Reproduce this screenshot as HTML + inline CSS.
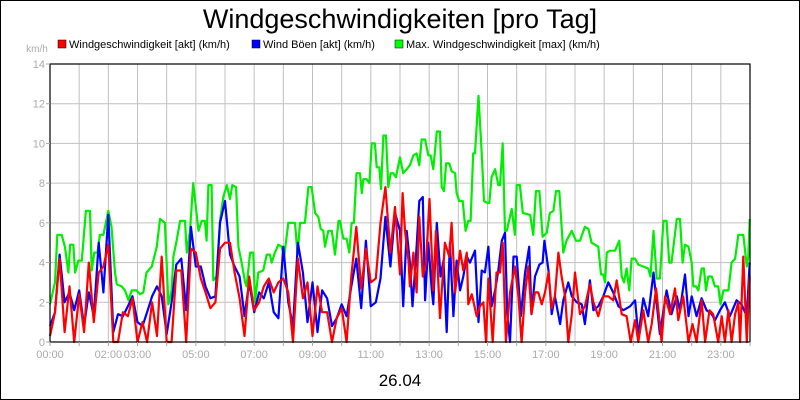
<!DOCTYPE html>
<html><head><meta charset="utf-8"><style>
html,body{margin:0;padding:0;background:#fff}
#wrap{position:relative;width:798px;height:398px;border:1px solid #000;overflow:hidden;font-family:"Liberation Sans",sans-serif}
</style></head><body>
<div id="wrap">
<svg id="chart" width="798" height="398" viewBox="1 1 798 398" xmlns="http://www.w3.org/2000/svg">
<text x="400" y="28" text-anchor="middle" font-size="27" font-family="Liberation Sans, sans-serif">Windgeschwindigkeiten [pro Tag]</text>
<g font-size="11" font-family="Liberation Sans, sans-serif">
<g><rect x="58" y="40" width="8" height="8" fill="#f00" stroke="#000" stroke-width="0.5"/><text x="69" y="48">Windgeschwindigkeit [akt] (km/h)</text></g>
<g><rect x="252" y="40" width="8" height="8" fill="#00f" stroke="#000" stroke-width="0.5"/><text x="263" y="48">Wind Böen [akt] (km/h)</text></g>
<g><rect x="395" y="40" width="8" height="8" fill="#0f0" stroke="#000" stroke-width="0.5"/><text x="406" y="48">Max. Windgeschwindigkeit [max] (km/h)</text></g>
</g>
<text x="37" y="52" text-anchor="middle" font-size="10" fill="#aaa">km/h</text>
<g id="grid"></g>
<g id="series"></g>
<rect x="50" y="64" width="700" height="278" fill="none" stroke="#000" stroke-width="1.2"/>
<g id="axes"></g>
<text x="400" y="386" text-anchor="middle" font-size="17">26.04</text>
</svg>
</div>
<script>
const yTicks=[0,2,4,6,8,10,12,14];
const xTickLabels=["00:00","02:00","03:00","05:00","07:00","09:00","11:00","13:00","15:00","17:00","19:00","21:00","23:00"];
const xTickHours=[0,2,3,5,7,9,11,13,15,17,19,21,23];
const greenTimes=[0,.17,.25,.40,.51,.63,.69,.80,.86,.97,1.09,1.23,1.37,1.43,1.52,1.63,1.71,1.83,2.0,2.11,2.23,2.29,2.46,2.57,2.69,2.8,2.97,3.09,3.2,3.31,3.49,3.66,3.77,3.94,4.06,4.17,4.23,4.34,4.46,4.63,4.69,4.8,4.91,5.09,5.2,5.31,5.37,5.43,5.54,5.6,5.71,5.83,5.94,6.06,6.17,6.25,6.38,6.46,6.57,6.69,6.74,6.86,6.97,7.03,7.14,7.31,7.43,7.54,7.6,7.71,7.83,7.94,8.03,8.17,8.4,8.49,8.57,8.74,8.86,8.97,9.09,9.2,9.28,9.37,9.43,9.54,9.66,9.77,9.89,9.94,10.06,10.17,10.26,10.34,10.42,10.51,10.63,10.69,10.74,10.86,10.95,11.03,11.14,11.2,11.29,11.35,11.43,11.52,11.6,11.68,11.77,11.86,12.0,12.11,12.23,12.34,12.46,12.57,12.66,12.74,12.86,12.97,13.05,13.14,13.26,13.37,13.43,13.51,13.58,13.69,13.77,13.89,13.94,14.03,14.15,14.25,14.34,14.42,14.51,14.57,14.69,14.8,14.88,15.0,15.06,15.14,15.26,15.37,15.43,15.52,15.6,15.66,15.83,15.94,16.0,16.11,16.21,16.46,16.57,16.66,16.78,16.89,17.03,17.14,17.26,17.35,17.46,17.6,17.71,17.89,18.03,18.17,18.34,18.46,18.57,18.8,18.89,18.97,19.03,19.09,19.2,19.37,19.52,19.6,19.68,19.77,19.86,19.94,20.06,20.17,20.34,20.51,20.59,20.69,20.8,20.91,21.03,21.14,21.23,21.31,21.49,21.6,21.69,21.77,21.89,22.0,22.06,22.15,22.23,22.34,22.42,22.49,22.57,22.69,22.8,22.91,22.99,23.09,23.26,23.37,23.49,23.6,23.77,23.89,23.94,23.99];
const greenValues=[1.9,3.0,5.4,5.4,4.8,3.5,4.9,4.9,3.5,4.1,4.1,6.6,6.6,3.6,4.5,4.5,5.4,5.4,6.6,5.8,3.5,2.9,2.8,2.6,2.1,2.6,2.6,2.4,2.5,3.5,3.8,4.8,6.2,6.0,1.9,2.6,4.3,5.1,6.1,6.1,4.5,5.6,8.0,5.6,6.1,6.1,5.1,7.9,7.9,3.1,3.3,6.1,7.3,7.9,7.2,7.9,7.8,4.8,4.0,3.0,2.8,4.5,4.5,2.0,3.5,3.6,4.4,4.4,4.0,4.5,4.9,4.8,4.3,6.0,6.0,4.4,6.0,6.0,7.8,7.8,6.5,6.3,5.7,5.6,4.8,5.6,5.6,4.4,6.1,6.1,5.2,5.2,4.5,6.0,6.0,8.5,8.5,7.5,8.2,8.2,8.0,10.0,10.0,8.8,8.8,7.7,10.4,10.4,7.8,8.5,8.5,8.3,9.3,8.5,8.7,8.9,9.4,9.5,8.9,10.2,10.2,9.4,9.4,8.7,10.6,10.6,7.8,7.6,9.0,9.0,8.6,8.5,7.5,7.1,7.1,5.6,6.1,6.1,9.5,9.5,12.4,9.5,7.1,7.0,7.0,8.3,8.7,7.9,7.9,10.0,5.6,5.6,6.7,5.4,7.9,7.9,6.5,6.4,5.4,7.6,7.6,5.3,5.5,6.5,6.6,7.6,7.6,4.5,5.1,5.6,5.1,5.1,5.8,5.7,5.0,4.8,3.4,3.4,3.0,4.5,4.6,4.6,5.1,3.3,3.0,3.7,2.6,4.2,4.2,3.9,3.8,3.7,3.3,5.6,3.2,3.2,6.1,6.1,4.0,4.0,6.2,6.2,4.0,4.9,4.8,4.0,2.8,2.8,2.6,3.7,3.7,2.6,3.3,3.3,2.8,2.8,1.9,2.6,2.6,4.0,4.2,5.4,5.4,3.8,4.3,6.2];
const redTimes=[0,.17,.33,.5,.67,.83,1.0,1.17,1.33,1.5,1.67,1.83,2.0,2.17,2.33,2.5,2.67,2.83,3.0,3.17,3.33,3.5,3.67,3.83,4.0,4.17,4.33,4.5,4.67,4.83,5.0,5.17,5.33,5.5,5.67,5.83,6.0,6.17,6.33,6.5,6.67,6.83,7.0,7.17,7.33,7.5,7.67,7.83,8.0,8.17,8.33,8.5,8.67,8.83,9.0,9.17,9.33,9.5,9.67,9.83,10.0,10.17,10.33,10.5,10.67,10.83,11.0,11.17,11.33,11.5,11.67,11.83,12.0,12.09,12.17,12.29,12.34,12.46,12.57,12.66,12.78,12.89,13.01,13.14,13.23,13.37,13.54,13.69,13.77,13.89,14.06,14.17,14.29,14.34,14.46,14.63,14.74,14.86,14.95,15.03,15.18,15.31,15.43,15.52,15.63,15.77,15.94,16.06,16.17,16.29,16.4,16.51,16.63,16.74,16.86,16.97,17.09,17.2,17.31,17.43,17.54,17.66,17.77,17.89,18.0,18.17,18.34,18.51,18.63,18.8,18.97,19.14,19.31,19.43,19.6,19.77,19.91,20.06,20.17,20.34,20.51,20.63,20.78,20.97,21.09,21.26,21.43,21.54,21.71,21.89,22.03,22.17,22.34,22.46,22.61,22.74,22.91,23.03,23.14,23.26,23.37,23.49,23.6,23.66,23.77,23.89,23.99];
const redValues=[0.3,1.5,4.2,0.5,2.8,0,2.4,0.5,4.0,1.0,3.5,3.8,4.9,0,0,1.5,1.3,2.2,0,1.0,0,2.0,0.3,4.3,0,0,3.6,3.6,0,4.7,4.5,3.2,2.5,1.7,2.0,4.7,5.0,5.0,3.5,2.2,0.3,3.3,1.6,2.0,2.8,3.2,2.5,3.0,3.2,2.5,0,4.2,2.2,3.0,0.3,2.8,1.5,1.5,0,1.2,1.7,0,3.3,5.8,2.7,4.7,3.0,3.2,6.0,7.8,4.5,6.8,3.4,7.5,5.6,4.1,2.8,4.5,2.5,6.3,3.3,4.0,7.2,2.6,5.6,1.2,5.0,4.3,6.0,2.5,4.6,3.6,4.5,1.9,2.4,1.3,1.8,2.0,0,3.2,0,3.5,3.5,5.0,0,2.5,3.8,2.3,0,2.5,3.8,1.4,2.5,2.5,1.9,2.5,3.5,1.7,2.3,4.5,3.3,2.3,0,1.4,3.5,1.4,1.8,2.9,2.0,1.3,2.3,2.3,2.1,3.1,1.4,1.3,0,1.1,0,1.6,0,0.9,2.7,0,2.3,1.4,2.7,1.1,2.3,0,0.9,0,2.1,0,1.6,1.4,0,1.3,0,1.6,0,1.4,2.0,0,4.3,0,3.3];
const blueTimes=[0,.17,.33,.5,.67,.83,1.0,1.17,1.33,1.5,1.67,1.83,2.0,2.17,2.33,2.5,2.67,2.83,3.0,3.17,3.33,3.5,3.67,3.83,4.0,4.17,4.33,4.5,4.67,4.83,5.0,5.17,5.33,5.5,5.67,5.83,6.0,6.17,6.33,6.5,6.67,6.83,7.0,7.17,7.33,7.5,7.67,7.83,8.0,8.17,8.33,8.5,8.67,8.83,9.0,9.17,9.33,9.5,9.67,9.83,10.0,10.17,10.33,10.5,10.67,10.83,11.0,11.17,11.33,11.5,11.67,11.83,12.0,12.11,12.23,12.34,12.43,12.55,12.66,12.78,12.86,12.97,13.09,13.14,13.26,13.39,13.49,13.6,13.71,13.83,13.94,14.06,14.17,14.29,14.4,14.57,14.69,14.8,14.91,15.03,15.14,15.26,15.37,15.49,15.6,15.68,15.77,15.89,16.0,16.14,16.29,16.43,16.51,16.63,16.78,16.89,16.95,17.09,17.2,17.31,17.49,17.6,17.77,17.89,18.06,18.23,18.34,18.51,18.63,18.8,18.97,19.14,19.31,19.49,19.66,19.89,20.06,20.17,20.34,20.51,20.69,20.91,21.14,21.31,21.49,21.6,21.77,21.89,22.0,22.17,22.34,22.51,22.69,22.8,22.97,23.14,23.31,23.54,23.71,23.89,23.99];
const blueValues=[0.8,1.5,4.4,2.0,2.5,1.6,2.6,0.8,2.5,1.3,5.0,2.5,6.4,0.5,1.4,1.3,1.8,2.3,1.0,0.8,1.5,2.3,2.8,2.3,0.4,2.0,3.9,4.2,1.6,5.8,3.8,3.8,2.8,2.2,2.3,6.0,7.1,4.4,3.8,3.3,1.3,3.0,1.5,2.5,2.2,3.0,1.5,1.2,4.8,2.0,0.8,5.0,3.5,1.0,3.0,0.5,2.6,2.2,0.8,1.2,1.9,1.3,2.8,4.2,1.7,5.1,1.8,2.0,3.2,6.3,3.8,6.5,5.6,1.8,5.6,4.0,1.8,4.3,7.1,7.3,2.1,5.0,2.6,1.9,6.0,3.3,4.1,0.5,5.0,1.3,4.1,2.6,3.3,4.3,4.0,4.6,1.0,3.6,3.5,4.8,1.8,2.6,3.6,5.1,5.5,1.4,0,4.3,4.3,1.3,3.5,4.8,1.4,3.3,3.9,4.0,5.1,3.6,1.4,2.3,0.9,2.1,3.0,2.3,2.0,1.9,0.9,3.1,1.6,1.8,2.3,3.0,2.5,1.8,1.6,1.8,2.1,0.3,2.2,1.3,3.5,0.4,2.6,1.4,2.3,1.6,3.4,1.3,2.3,1.3,2.2,1.6,1.4,1.1,1.6,2.0,1.3,2.1,1.9,1.3,4.0];

const NS="http://www.w3.org/2000/svg";
const X0=50,X1=750,Y0=342,Y1=64;
function xScale(h){return X0+h/24*(X1-X0);}
function yScale(v){return Y0-v/14*(Y0-Y1);}
const grid=document.getElementById('grid'),axes=document.getElementById('axes'),series=document.getElementById('series');
for(let h=1;h<24;h++){
  const l=document.createElementNS(NS,'line');
  
  
  l.setAttribute('x1',xScale(h));l.setAttribute('x2',xScale(h));l.setAttribute('y1',Y1);l.setAttribute('y2',Y0);
  l.setAttribute('stroke','#c0c0c0');l.setAttribute('stroke-width','1');grid.appendChild(l);
}
for(let h=0;h<=24;h++){
  const t=document.createElementNS(NS,'line');
  
  
  t.setAttribute('x1',xScale(h));t.setAttribute('x2',xScale(h));t.setAttribute('y1',Y0);t.setAttribute('y2',Y0+4);
  t.setAttribute('stroke','#aaa');axes.appendChild(t);
}
yTicks.forEach(v=>{
  if(v>0&&v<14){
    const l=document.createElementNS(NS,'line');
    
    
    l.setAttribute('x1',X0);l.setAttribute('x2',X1);l.setAttribute('y1',yScale(v));l.setAttribute('y2',yScale(v));
    l.setAttribute('stroke','#c0c0c0');grid.appendChild(l);
  }
  const tk=document.createElementNS(NS,'line');
  
  
  tk.setAttribute('x1',X0-4);tk.setAttribute('x2',X0);tk.setAttribute('y1',yScale(v));tk.setAttribute('y2',yScale(v));
  tk.setAttribute('stroke','#aaa');axes.appendChild(tk);
  const t=document.createElementNS(NS,'text');
  
  
  t.setAttribute('x',X0-5);t.setAttribute('y',yScale(v)+4);t.setAttribute('text-anchor','end');
  t.setAttribute('font-size','11');t.setAttribute('fill','#aaa');t.textContent=v;axes.appendChild(t);
});
xTickLabels.forEach((lab,i)=>{
  const t=document.createElementNS(NS,'text');
  
  
  t.setAttribute('x',xScale(xTickHours[i]));t.setAttribute('y',358);t.setAttribute('text-anchor','middle');
  t.setAttribute('font-size','11');t.setAttribute('fill','#aaa');t.textContent=lab;axes.appendChild(t);
});
function drawLine(times,vals,color,name){
  const p=document.createElementNS(NS,'polyline');
  
  
  p.setAttribute('points',times.map((h,i)=>xScale(h).toFixed(1)+','+yScale(vals[i]).toFixed(1)).join(' '));
  p.setAttribute('fill','none');p.setAttribute('stroke',color);p.setAttribute('stroke-width','2.2');
  p.setAttribute('stroke-linejoin','round');series.appendChild(p);
}
drawLine(greenTimes,greenValues,'#00ee00','line-max-speed');
drawLine(blueTimes,blueValues,'#0000ff','line-gusts');
drawLine(redTimes,redValues,'#ff0000','line-speed');
</script>
</body></html>
